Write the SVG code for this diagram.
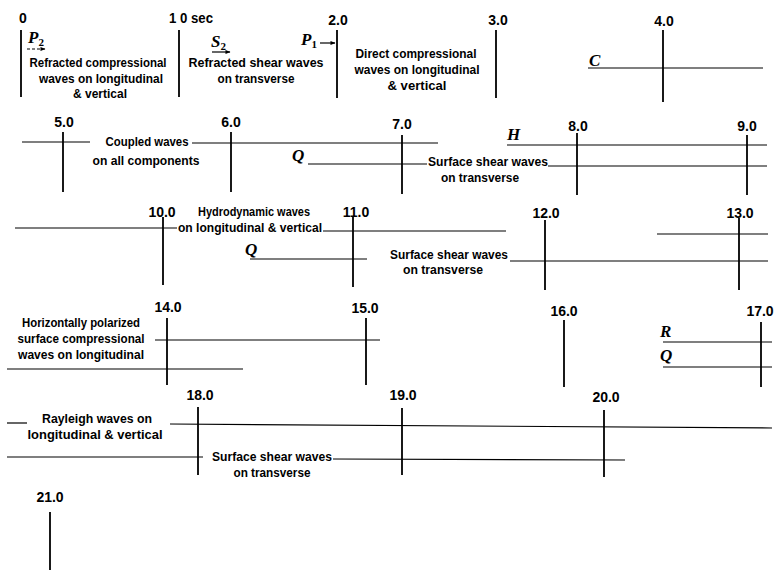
<svg xmlns="http://www.w3.org/2000/svg" width="778" height="573" viewBox="0 0 778 573">
<defs>
<style>
.num{font-family:"Liberation Sans",Arial,sans-serif;font-size:14px;font-weight:bold;text-anchor:middle;fill:#000}
.lbl{font-family:"Liberation Sans",Arial,sans-serif;font-size:13px;font-weight:bold;text-anchor:middle;fill:#000}
.sym{font-family:"Liberation Serif","Times New Roman",serif;font-style:italic;font-weight:bold;font-size:17px;fill:#000}
.sub{font-size:11px;font-style:normal}
.tick{stroke:#000;stroke-width:1.8;fill:none}
.h{stroke:#000;stroke-width:1.2;fill:none}
</style>
<marker id="ah" viewBox="0 0 10 10" refX="9" refY="5" markerWidth="6" markerHeight="5" orient="auto" markerUnits="userSpaceOnUse">
<path d="M0,1 L10,5 L0,9 z" fill="#000"/>
</marker>
</defs>
<rect width="778" height="573" fill="#fff"/>
<g id="ticks">
<line class="tick" x1="21" y1="30" x2="21" y2="97"/>
<line class="tick" x1="179" y1="30" x2="179" y2="97"/>
<line class="tick" x1="337" y1="30" x2="337" y2="98"/>
<line class="tick" x1="496" y1="30" x2="496" y2="98"/>
<line class="tick" x1="663" y1="30" x2="663" y2="102"/>
<line class="tick" x1="63" y1="132" x2="63" y2="192"/>
<line class="tick" x1="231" y1="132" x2="231" y2="192"/>
<line class="tick" x1="402" y1="135" x2="402" y2="194"/>
<line class="tick" x1="577" y1="133" x2="577" y2="195"/>
<line class="tick" x1="747" y1="135" x2="747" y2="195"/>
<line class="tick" x1="163" y1="217" x2="163" y2="285"/>
<line class="tick" x1="353" y1="217" x2="353" y2="287"/>
<line class="tick" x1="545" y1="220" x2="545" y2="290"/>
<line class="tick" x1="739" y1="218" x2="739" y2="290"/>
<line class="tick" x1="167" y1="318" x2="167" y2="385"/>
<line class="tick" x1="366" y1="318" x2="366" y2="385"/>
<line class="tick" x1="564" y1="320" x2="564" y2="387"/>
<line class="tick" x1="761" y1="322" x2="761" y2="387"/>
<line class="tick" x1="198" y1="407" x2="198" y2="475"/>
<line class="tick" x1="402" y1="408" x2="402" y2="475"/>
<line class="tick" x1="604" y1="410" x2="604" y2="477"/>
<line class="tick" x1="50" y1="512" x2="50" y2="570"/>
</g>
<g id="numbers">
<text class="num" x="23" y="23">0</text>
<text class="num" x="169" y="23" style="text-anchor:start" textLength="44" lengthAdjust="spacingAndGlyphs">1 0 sec</text>
<text class="num" x="338" y="25">2.0</text>
<text class="num" x="498" y="25">3.0</text>
<text class="num" x="664" y="26">4.0</text>
<text class="num" x="64" y="127">5.0</text>
<text class="num" x="231" y="127">6.0</text>
<text class="num" x="402" y="129">7.0</text>
<text class="num" x="578" y="131">8.0</text>
<text class="num" x="747" y="131">9.0</text>
<text class="num" x="162" y="217">10.0</text>
<text class="num" x="356" y="217">11.0</text>
<text class="num" x="546" y="218">12.0</text>
<text class="num" x="740" y="218">13.0</text>
<text class="num" x="168" y="312">14.0</text>
<text class="num" x="365" y="313">15.0</text>
<text class="num" x="564" y="316">16.0</text>
<text class="num" x="760" y="316">17.0</text>
<text class="num" x="200" y="400">18.0</text>
<text class="num" x="403" y="400">19.0</text>
<text class="num" x="606" y="402">20.0</text>
<text class="num" x="50" y="502">21.0</text>
</g>
<g id="connectors">
<line class="h" x1="588" y1="68" x2="763" y2="68"/>
<line class="h" x1="22" y1="142" x2="90" y2="142"/>
<line class="h" x1="192" y1="143" x2="438" y2="143"/>
<line class="h" x1="308" y1="164" x2="427" y2="164"/>
<line class="h" x1="507" y1="145" x2="767" y2="145"/>
<line class="h" x1="548" y1="166" x2="767" y2="166"/>
<line class="h" x1="15" y1="228" x2="177" y2="228"/>
<line class="h" x1="323" y1="231" x2="506" y2="231"/>
<line class="h" x1="250" y1="259" x2="367" y2="259"/>
<line class="h" x1="510" y1="261" x2="768" y2="261"/>
<line class="h" x1="657" y1="234" x2="768" y2="234"/>
<line class="h" x1="155" y1="340" x2="380" y2="340"/>
<line class="h" x1="7" y1="369" x2="243" y2="369"/>
<line class="h" x1="663" y1="342" x2="772" y2="342"/>
<line class="h" x1="663" y1="367" x2="772" y2="367"/>
<line class="h" x1="7" y1="423" x2="27" y2="423"/>
<line class="h" x1="170" y1="424" x2="772" y2="428"/>
<line class="h" x1="7" y1="457" x2="203" y2="457"/>
<line class="h" x1="333" y1="459" x2="625" y2="460"/>
<line class="h" x1="27" y1="49" x2="45" y2="49" stroke-dasharray="3,2" marker-end="url(#ah)"/>
<line class="h" x1="212" y1="52" x2="230" y2="52" marker-end="url(#ah)"/>
<line class="h" x1="320" y1="43" x2="335" y2="43" marker-end="url(#ah)"/>
</g>
<g id="symbols">
<text class="sym" x="28" y="43">P<tspan class="sub" dy="3">2</tspan></text>
<text class="sym" x="211" y="47">S<tspan class="sub" dy="3">2</tspan></text>
<text class="sym" x="301" y="45">P<tspan class="sub" dy="3">1</tspan></text>
<text class="sym" x="589" y="66">C</text>
<text class="sym" x="292" y="161">Q</text>
<text class="sym" x="507" y="140">H</text>
<text class="sym" x="245" y="255">Q</text>
<text class="sym" x="660" y="337">R</text>
<text class="sym" x="660" y="361">Q</text>
</g>
<g id="node-refracted-compressional">
<text class="lbl" x="98" y="67" textLength="137" lengthAdjust="spacingAndGlyphs">Refracted compressional</text>
<text class="lbl" x="101" y="83" textLength="124" lengthAdjust="spacingAndGlyphs">waves on longitudinal</text>
<text class="lbl" x="100" y="98" textLength="54" lengthAdjust="spacingAndGlyphs">&amp; vertical</text>
</g>
<g id="node-refracted-shear">
<text class="lbl" x="256" y="67" textLength="135" lengthAdjust="spacingAndGlyphs">Refracted shear waves</text>
<text class="lbl" x="256" y="83" textLength="77" lengthAdjust="spacingAndGlyphs">on transverse</text>
</g>
<g id="node-direct-compressional">
<text class="lbl" x="416" y="58" textLength="121" lengthAdjust="spacingAndGlyphs">Direct compressional</text>
<text class="lbl" x="417" y="74" textLength="125" lengthAdjust="spacingAndGlyphs">waves on longitudinal</text>
<text class="lbl" x="417" y="90" textLength="59" lengthAdjust="spacingAndGlyphs">&amp; vertical</text>
</g>
<g id="node-coupled">
<text class="lbl" x="147" y="146" textLength="83" lengthAdjust="spacingAndGlyphs">Coupled waves</text>
<text class="lbl" x="146" y="165" textLength="107" lengthAdjust="spacingAndGlyphs">on all components</text>
</g>
<g id="node-surface-shear-1">
<text class="lbl" x="488" y="166" textLength="120" lengthAdjust="spacingAndGlyphs">Surface shear waves</text>
<text class="lbl" x="480" y="182" textLength="78" lengthAdjust="spacingAndGlyphs">on transverse</text>
</g>
<g id="node-hydrodynamic">
<text class="lbl" x="254" y="216" textLength="112" lengthAdjust="spacingAndGlyphs">Hydrodynamic waves</text>
<text class="lbl" x="250" y="232" textLength="144" lengthAdjust="spacingAndGlyphs">on longitudinal &amp; vertical</text>
</g>
<g id="node-surface-shear-2">
<text class="lbl" x="449" y="259" textLength="118" lengthAdjust="spacingAndGlyphs">Surface shear waves</text>
<text class="lbl" x="443" y="274" textLength="80" lengthAdjust="spacingAndGlyphs">on transverse</text>
</g>
<g id="node-horizontally-polarized">
<text class="lbl" x="81" y="327" textLength="118" lengthAdjust="spacingAndGlyphs">Horizontally polarized</text>
<text class="lbl" x="81" y="343" textLength="127" lengthAdjust="spacingAndGlyphs">surface compressional</text>
<text class="lbl" x="81" y="359" textLength="126" lengthAdjust="spacingAndGlyphs">waves on longitudinal</text>
</g>
<g id="node-rayleigh">
<text class="lbl" x="97" y="423" textLength="110" lengthAdjust="spacingAndGlyphs">Rayleigh waves on</text>
<text class="lbl" x="95" y="439" textLength="135" lengthAdjust="spacingAndGlyphs">longitudinal &amp; vertical</text>
</g>
<g id="node-surface-shear-3">
<text class="lbl" x="272" y="461" textLength="120" lengthAdjust="spacingAndGlyphs">Surface shear waves</text>
<text class="lbl" x="272" y="477" textLength="77" lengthAdjust="spacingAndGlyphs">on transverse</text>
</g>
</svg>
